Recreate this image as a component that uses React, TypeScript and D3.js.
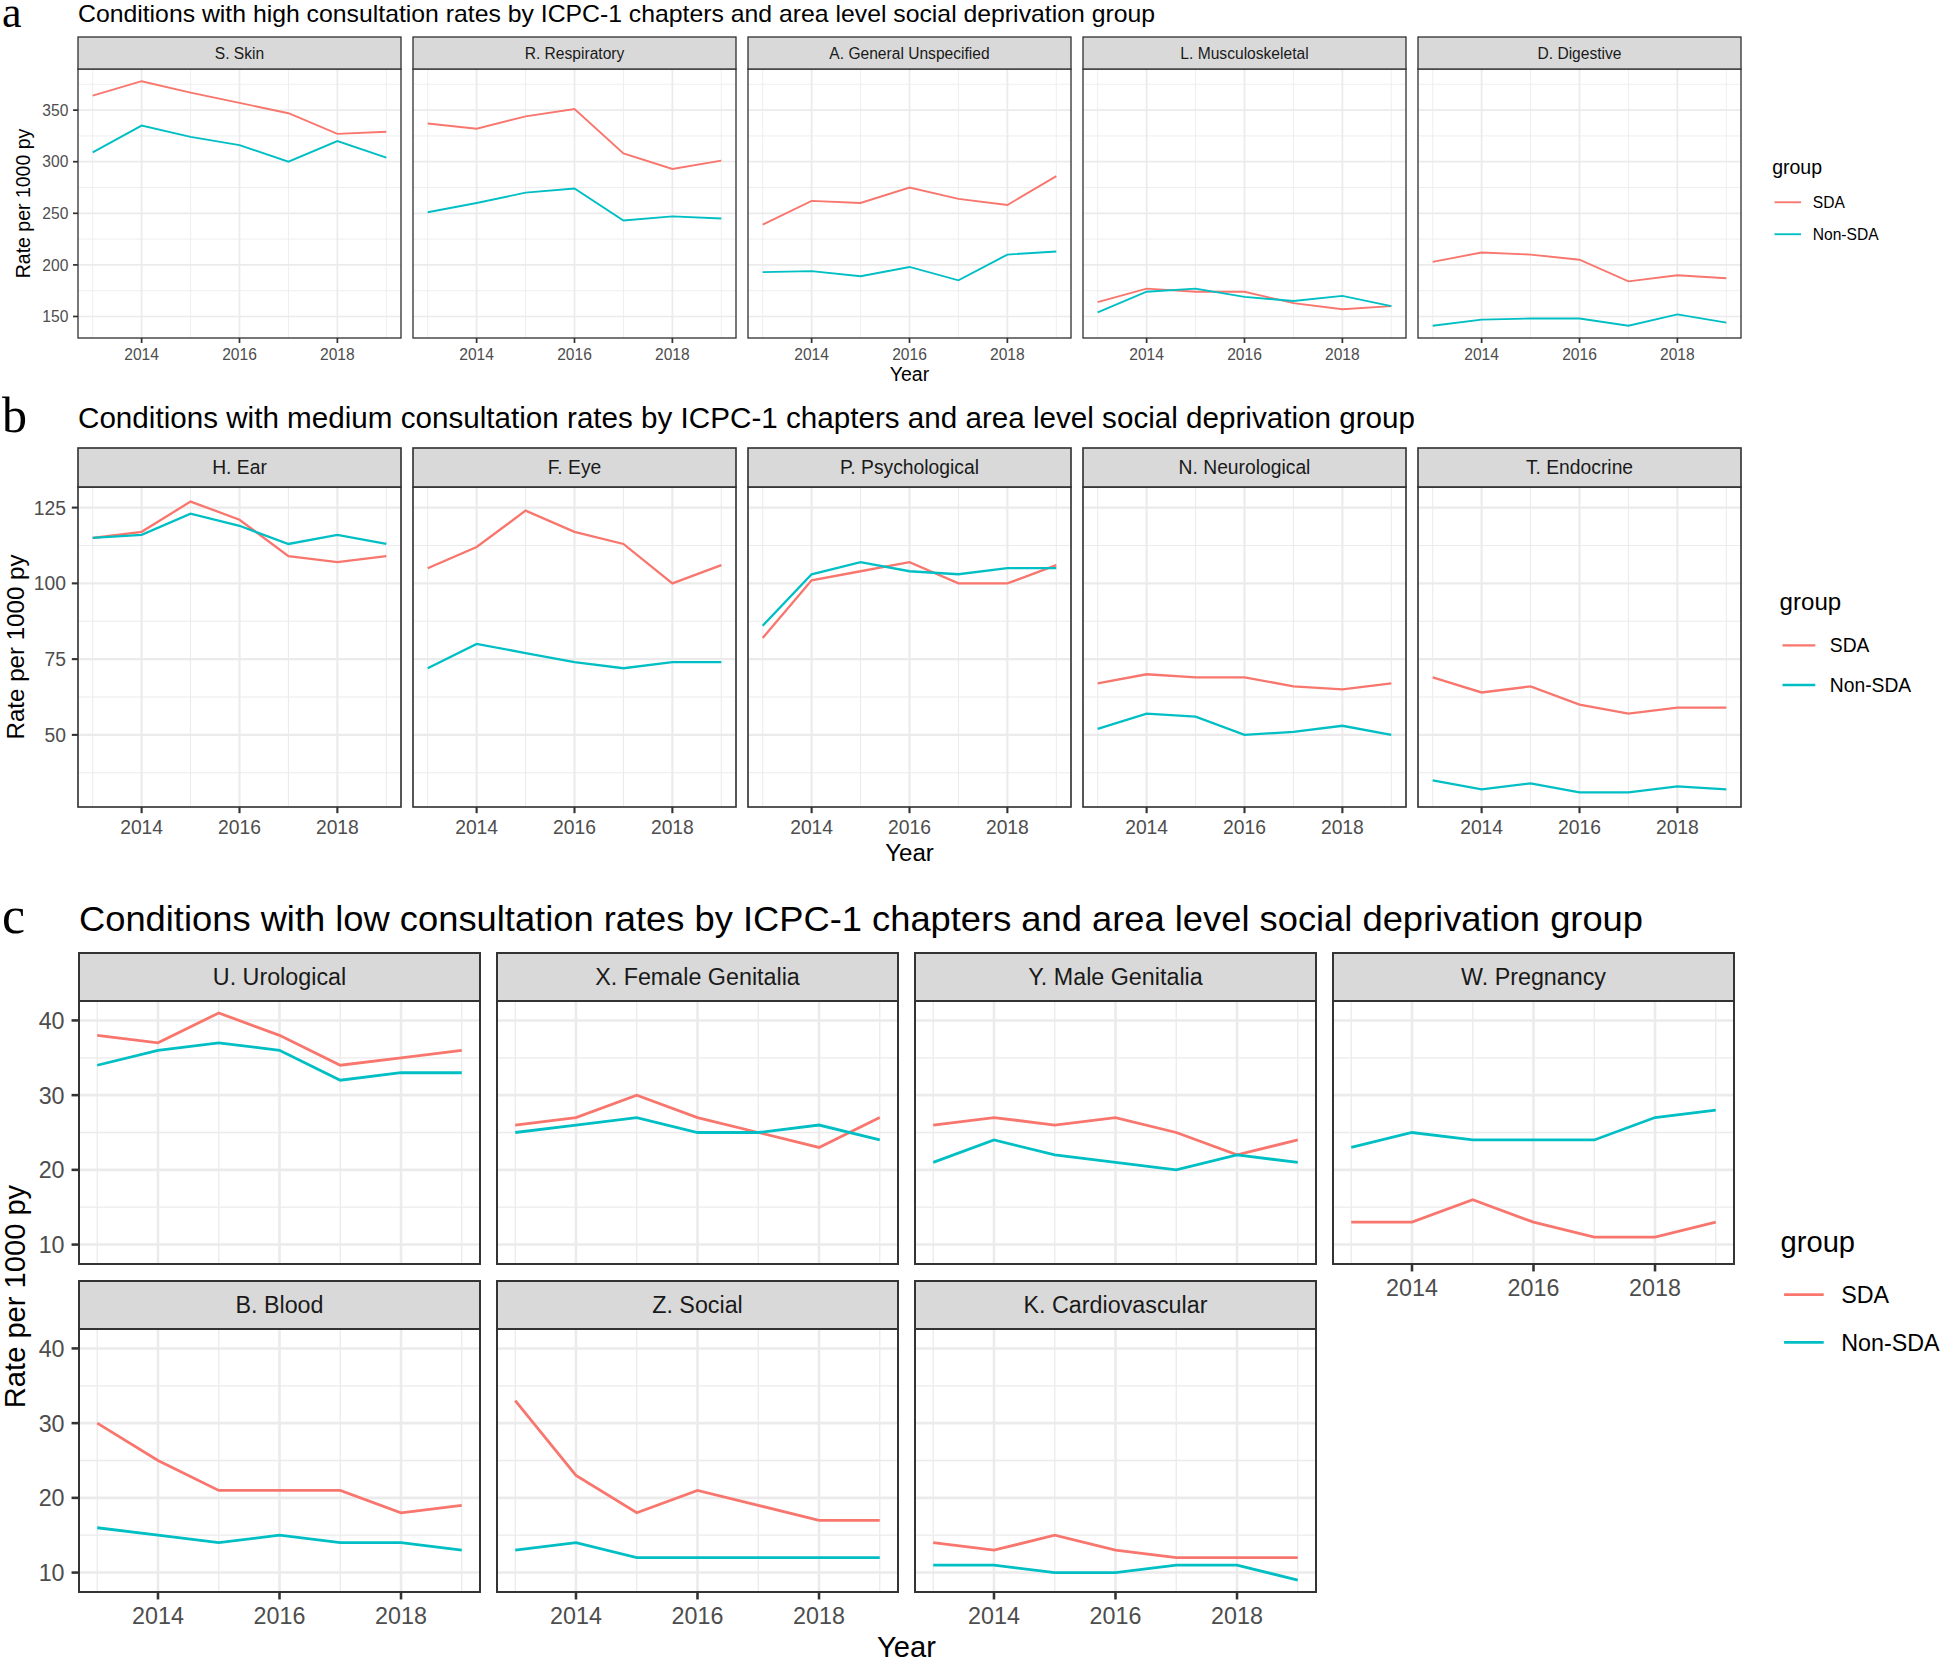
import React from 'react';
import * as d3 from 'd3';

const years = [2013, 2014, 2015, 2016, 2017, 2018, 2019];
const yearTicks = [2014, 2016, 2018];
const yearMinor = [2013, 2015, 2017, 2019];
const groupNames = ['SDA', 'Non-SDA'];
const groupColors = ['#F8766D', '#00BFC4'];

// a. high consultation rates
const highChapters = ['S. Skin', 'R. Respiratory', 'A. General Unspecified', 'L. Musculoskeletal', 'D. Digestive'];
const highSDA = [
  [364, 378, 367, 357, 347, 327, 329],
  [337, 332, 344, 351, 308, 293, 301],
  [239, 262, 260, 275, 264, 258, 286],
  [164, 177, 174, 174, 163, 157, 160],
  [203, 212, 210, 205, 184, 190, 187],
];
const highNonSDA = [
  [309, 335, 324, 316, 300, 320, 304],
  [251, 260, 270, 274, 243, 247, 245],
  [193, 194, 189, 198, 185, 210, 213],
  [154, 174, 177, 169, 165, 170, 160],
  [141, 147, 148, 148, 141, 152, 144],
];
const highTicks = [150, 200, 250, 300, 350];

// b. medium consultation rates
const mediumChapters = ['H. Ear', 'F. Eye', 'P. Psychological', 'N. Neurological', 'T. Endocrine'];
const mediumSDA = [
  [115, 117, 127, 121, 109, 107, 109],
  [105, 112, 124, 117, 113, 100, 106],
  [82, 101, 104, 107, 100, 100, 106],
  [67, 70, 69, 69, 66, 65, 67],
  [69, 64, 66, 60, 57, 59, 59],
];
const mediumNonSDA = [
  [115, 116, 123, 119, 113, 116, 113],
  [72, 80, 77, 74, 72, 74, 74],
  [86, 103, 107, 104, 103, 105, 105],
  [52, 57, 56, 50, 51, 53, 50],
  [35, 32, 34, 31, 31, 33, 32],
];
const mediumTicks = [50, 75, 100, 125];

// c. low consultation rates
const lowChapters = ['U. Urological', 'X. Female Genitalia', 'Y. Male Genitalia', 'W. Pregnancy', 'B. Blood', 'Z. Social', 'K. Cardiovascular'];
const lowSDA = [
  [38, 37, 41, 38, 34, 35, 36],
  [26, 27, 30, 27, 25, 23, 27],
  [26, 27, 26, 27, 25, 22, 24],
  [13, 13, 16, 13, 11, 11, 13],
  [30, 25, 21, 21, 21, 18, 19],
  [33, 23, 18, 21, 19, 17, 17],
  [14, 13, 15, 13, 12, 12, 12],
];
const lowNonSDA = [
  [34, 36, 37, 36, 32, 33, 33],
  [25, 26, 27, 25, 25, 26, 24],
  [21, 24, 22, 21, 20, 22, 21],
  [23, 25, 24, 24, 24, 27, 28],
  [16, 15, 14, 15, 14, 14, 13],
  [13, 14, 12, 12, 12, 12, 12],
  [11, 11, 10, 10, 11, 11, 9],
];
const lowTicks = [10, 20, 30, 40];

const SANS = "'Liberation Sans', Arial, Helvetica, sans-serif";
const SERIF = "'Liberation Serif', 'Times New Roman', serif";

// layout of the three stacked figures
const sections = [
  {
    tag: 'a', tagSize: 44, tagY: 27,
    title: 'Conditions with high consultation rates by ICPC-1 chapters and area level social deprivation group',
    titleY: 22, titleW: 1077, base: 15.6,
    chapters: highChapters, sda: highSDA, non: highNonSDA, ticks: highTicks,
    cols: 5, x0: 78, pw: 323, gap: 12, rowTops: [37], stripH: 32, plotH: 269, yTitleX: 30,
  },
  {
    tag: 'b', tagSize: 50, tagY: 432,
    title: 'Conditions with medium consultation rates by ICPC-1 chapters and area level social deprivation group',
    titleY: 428, titleW: 1337, base: 19.3,
    chapters: mediumChapters, sda: mediumSDA, non: mediumNonSDA, ticks: mediumTicks,
    cols: 5, x0: 78, pw: 323, gap: 12, rowTops: [448], stripH: 39, plotH: 320, yTitleX: 24,
  },
  {
    tag: 'c', tagSize: 52, tagY: 933,
    title: 'Conditions with low consultation rates by ICPC-1 chapters and area level social deprivation group',
    titleY: 931, titleW: 1564, base: 23.3,
    chapters: lowChapters, sda: lowSDA, non: lowNonSDA, ticks: lowTicks,
    cols: 4, x0: 79, pw: 401, gap: 17, rowTops: [953, 1281], stripH: 48, plotH: 263, yTitleX: 25,
  },
];

function Section({ s }: { s: any }) {
  const b = s.base;
  const all = [...s.sda.flat(), ...s.non.flat()];
  const [lo, hi] = d3.extent(all) as [number, number];
  const pad = (hi - lo) * 0.05;
  const yDomain = [lo - pad, hi + pad];
  const xDomain = [2013 - 0.3, 2019 + 0.3];
  const step = s.ticks[1] - s.ticks[0];
  const minorY = d3
    .range(s.ticks[0] - step / 2, s.ticks[s.ticks.length - 1] + step, step)
    .filter((v: number) => v > yDomain[0] && v < yDomain[1]);
  const tickLen = 0.32 * b;
  const tickGap = 0.3 * b;
  const major = 0.11 * b;
  const minorW = 0.055 * b;
  const border = 0.085 * b;
  const n = s.chapters.length;
  const right = s.x0 + s.cols * s.pw + (s.cols - 1) * s.gap;
  const firstTop = s.rowTops[0] + s.stripH;
  const lastBottom = s.rowTops[s.rowTops.length - 1] + s.stripH + s.plotH;
  const tickLabelY = lastBottom + tickLen + tickGap + 0.76 * b;
  const legendX = right + 2 * b;
  const legendMid = (firstTop + lastBottom) / 2;
  const legendTitleY = legendMid - 1.9 * b;

  const panels = s.chapters.map((name: string, i: number) => {
    const col = i % s.cols;
    const row = Math.floor(i / s.cols);
    const px = s.x0 + col * (s.pw + s.gap);
    const stripTop = s.rowTops[row];
    const top = stripTop + s.stripH;
    const bottom = top + s.plotH;
    const hasBelow = i + s.cols < n;
    const x = d3.scaleLinear().domain(xDomain).range([px, px + s.pw]);
    const y = d3.scaleLinear().domain(yDomain).range([bottom, top]);
    const line = d3
      .line<number>()
      .x((_, j) => x(years[j]))
      .y((v) => y(v));
    const series = [s.sda[i], s.non[i]];
    return (
      <g key={name}>
        <rect x={px} y={top} width={s.pw} height={s.plotH} fill="#fff" />
        {minorY.map((v: number) => (
          <line key={'my' + v} x1={px} x2={px + s.pw} y1={y(v)} y2={y(v)} stroke="#EBEBEB" strokeWidth={minorW} />
        ))}
        {yearMinor.map((v) => (
          <line key={'mx' + v} x1={x(v)} x2={x(v)} y1={top} y2={bottom} stroke="#EBEBEB" strokeWidth={minorW} />
        ))}
        {s.ticks.map((v: number) => (
          <line key={'gy' + v} x1={px} x2={px + s.pw} y1={y(v)} y2={y(v)} stroke="#EBEBEB" strokeWidth={major} />
        ))}
        {yearTicks.map((v) => (
          <line key={'gx' + v} x1={x(v)} x2={x(v)} y1={top} y2={bottom} stroke="#EBEBEB" strokeWidth={major} />
        ))}
        {series.map((vals: number[], g: number) => (
          <path key={'s' + g} d={line(vals) || ''} fill="none" stroke={groupColors[g]} strokeWidth={0.12 * b} />
        ))}
        <rect x={px} y={top} width={s.pw} height={s.plotH} fill="none" stroke="#333333" strokeWidth={border} />
        <rect x={px} y={stripTop} width={s.pw} height={s.stripH} fill="#D9D9D9" stroke="#333333" strokeWidth={border} />
        <text x={px + s.pw / 2} y={stripTop + s.stripH / 2 + 0.36 * b} fontSize={b} fill="#1A1A1A" textAnchor="middle">
          {name}
        </text>
        {col === 0 &&
          s.ticks.map((v: number) => (
            <g key={'ya' + v}>
              <line x1={px - tickLen} x2={px} y1={y(v)} y2={y(v)} stroke="#333333" strokeWidth={major} />
              <text x={px - tickLen - tickGap} y={y(v) + 0.36 * b} fontSize={b} fill="#4D4D4D" textAnchor="end">
                {v}
              </text>
            </g>
          ))}
        {!hasBelow &&
          yearTicks.map((v) => (
            <g key={'xa' + v}>
              <line x1={x(v)} x2={x(v)} y1={bottom} y2={bottom + tickLen} stroke="#333333" strokeWidth={major} />
              <text x={x(v)} y={bottom + tickLen + tickGap + 0.76 * b} fontSize={b} fill="#4D4D4D" textAnchor="middle">
                {v}
              </text>
            </g>
          ))}
      </g>
    );
  });

  return (
    <g>
      <text x={2} y={s.tagY} fontFamily={SERIF} fontSize={s.tagSize} fill="#000">
        {s.tag}
      </text>
      <text x={s.x0} y={s.titleY} fontSize={1.5 * b} fill="#000" textLength={s.titleW} lengthAdjust="spacingAndGlyphs">
        {s.title}
      </text>
      {panels}
      <text x={(s.x0 + right) / 2} y={tickLabelY + 1.4 * b} fontSize={1.25 * b} fill="#000" textAnchor="middle">
        Year
      </text>
      <text
        transform={`translate(${s.yTitleX},${(firstTop + lastBottom) / 2}) rotate(-90)`}
        fontSize={1.25 * b}
        fill="#000"
        textAnchor="middle"
      >
        Rate per 1000 py
      </text>
      <text x={legendX} y={legendTitleY} fontSize={1.25 * b} fill="#000">
        group
      </text>
      {groupNames.map((g, k) => {
        const ky = legendTitleY + 1.82 * b + k * 2.05 * b;
        return (
          <g key={g}>
            <line x1={legendX + 0.15 * b} x2={legendX + 1.85 * b} y1={ky} y2={ky} stroke={groupColors[k]} strokeWidth={0.12 * b} />
            <text x={legendX + 2.6 * b} y={ky + 0.36 * b} fontSize={b} fill="#000">
              {g}
            </text>
          </g>
        );
      })}
    </g>
  );
}

export default function App() {
  const width = 1944;
  const height = 1662;
  return (
    <svg
      width={width}
      height={height}
      fontFamily={SANS}
      style={{ position: 'absolute', left: 0, top: 0, display: 'block' }}
    >
      <rect width={width} height={height} fill="#fff" />
      {sections.map((s) => (
        <Section key={s.tag} s={s} />
      ))}
    </svg>
  );
}
